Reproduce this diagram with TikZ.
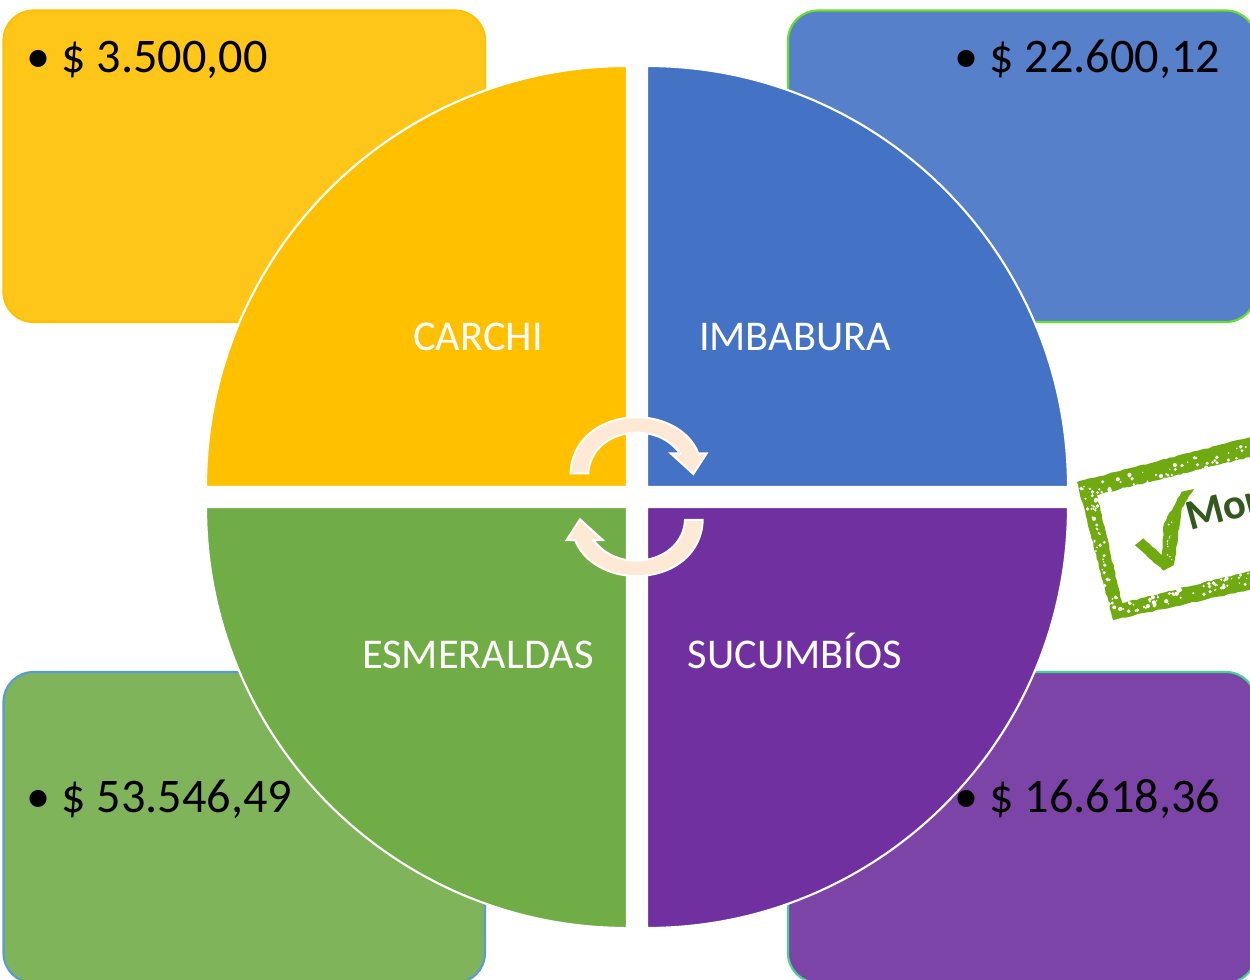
\documentclass[tikz,border=0pt]{standalone}
\usetikzlibrary{decorations.pathmorphing}
\usepackage{fontspec}
\setmainfont{Carlito}
\definecolor{pieY}{HTML}{FFC000}
\definecolor{pieB}{HTML}{4472C4}
\definecolor{pieG}{HTML}{70AD47}
\definecolor{pieP}{HTML}{7030A0}
\definecolor{boxY}{HTML}{FFC61A}
\definecolor{boxB}{HTML}{5680CA}
\definecolor{boxG}{HTML}{7FB45B}
\definecolor{boxP}{HTML}{7D44A8}
\definecolor{arrowF}{HTML}{FDE9D5}
\definecolor{stampG}{HTML}{6FAA10}
\definecolor{stampT}{HTML}{33591F}
\definecolor{edgeB}{HTML}{66E02A}
\definecolor{edgeG}{HTML}{5B9BD5}
\definecolor{edgeP}{HTML}{44D492}
\tikzset{
  panel/.style={line width=1.6pt,rounded corners=22.5pt},
  pie/.style={draw=white,line width=1.6pt},
  pielabel/.style={text=white,font=\fontsize{31.8}{34}\selectfont,anchor=base},
  amount/.style={text=black,font=\fontsize{36.2}{38}\selectfont,anchor=base west,inner sep=0pt},
  turn/.style={fill=arrowF,draw=white,line width=1.5pt,line join=miter},
  rough/.style={decorate,decoration={random steps,segment length=3pt,amplitude=0.45pt}}
}
\newcommand{\amt}[1]{•\hspace{0.23em}\$ #1}
\newcommand{\turnarrow}{%
  (62,220) .. controls (64,120) and (150,52) .. (262,52)
  .. controls (345,52) and (420,95) .. (445,160)
  -- (470,160) -- (430,222) -- (362,160) -- (390,160)
  .. controls (360,120) and (315,98) .. (262,98)
  .. controls (180,98) and (118,150) .. (115,220) -- cycle}
\begin{document}
\begin{tikzpicture}[x=0.75pt,y=-0.75pt]
\useasboundingbox (0,0) rectangle (1250,980);
\clip (0,0) rectangle (1250,980);
% panels
\path[panel,fill=boxY,draw=pieY] (3.5,10.5) rectangle (485,322);
\path[panel,fill=boxB,draw=edgeB] (788,10.5) rectangle (1256,322);
\path[panel,fill=boxG,draw=edgeG] (3.5,672) rectangle (485,983);
\path[panel,fill=boxP,draw=edgeP] (788,672) rectangle (1256,983);
\node[amount] (a1) at (26,73) {\amt{3.500,00}};
\node[amount] (a2) at (954,73) {\amt{22.600,12}};
\node[amount] (a3) at (26,812) {\amt{53.546,49}};
% stamp
\fill[stampG,rough] (1077,482) -- (1262,434) -- (1262,454) -- (1097,495) -- (1122,603) -- (1262,568) -- (1262,587) -- (1113,620) -- cycle;
\begin{scope}[shift={(1050,420)},x=0.25pt,y=-0.25pt]
\fill[stampG,rough] (255,375) -- (280,355) -- (335,405) -- (342,310) -- (395,215) -- (432,207)
  -- (395,265) -- (384,350) -- (372,435) -- (340,452) -- cycle;
\end{scope}
\pgfmathsetseed{7}
\foreach \i in {1,...,60}{
  \pgfmathsetmacro{\t}{rnd}\pgfmathsetmacro{\o}{rnd}\pgfmathsetmacro{\r}{0.7+1.5*rnd}
  \fill[white] ({1080+10*\o+178*\t},{487+(-46)*\t+12*\o}) circle[radius=\r];
  \pgfmathsetmacro{\t}{rnd}\pgfmathsetmacro{\o}{rnd}\pgfmathsetmacro{\r}{0.7+1.5*rnd}
  \fill[white] ({1113+142*\t},{604+(-33)*\t+13*\o}) circle[radius=\r];
}
\foreach \i in {1,...,40}{
  \pgfmathsetmacro{\t}{rnd}\pgfmathsetmacro{\o}{rnd}\pgfmathsetmacro{\r}{0.7+1.4*rnd}
  \fill[white] ({1082+28*\t+13*\o},{490+125*\t}) circle[radius=\r];
}
\foreach \i in {1,...,14}{
  \pgfmathsetmacro{\t}{rnd}\pgfmathsetmacro{\r}{0.5+0.7*rnd}
  \fill[white] ({1167+rnd*6},{522+42*\t}) circle[radius=\r];
}
\node[text=stampT,font=\bfseries\fontsize{32}{34}\selectfont,rotate=15,anchor=base west,inner sep=0pt] (stamp) at (1190,531) {Mor};
% pie quarters
\path[pie,fill=pieY] (206,487) .. controls (206,254.5) and (394.5,66) .. (627,66) -- (627,487) -- cycle;
\path[pie,fill=pieB] (647,66) .. controls (879.5,66) and (1068,254.5) .. (1068,487) -- (647,487) -- cycle;
\path[pie,fill=pieP] (1068,507) .. controls (1068,739.5) and (879.5,928) .. (647,928) -- (647,507) -- cycle;
\path[pie,fill=pieG] (627,928) .. controls (394.5,928) and (206,739.5) .. (206,507) -- (627,507) -- cycle;
\node[amount] (a4) at (954,812) {\amt{16.618,36}};
\node[pielabel] (carchi) at (478,351) {CARCHI};
\node[pielabel] (imbabura) at (795,351) {IMBABURA};
\node[pielabel] (esmeraldas) at (478,668) {ESMERALDAS};
\node[pielabel] (sucumbios) at (795,668) {SUCUMBÍOS};
% turning arrows
\begin{scope}[shift={(550,400)},x=0.25pt,y=-0.25pt]
\path[turn] \turnarrow;
\begin{scope}[shift={(520,580)},xscale=-1,yscale=-1]
\path[turn] \turnarrow;
\end{scope}
\end{scope}
\end{tikzpicture}
\end{document}
